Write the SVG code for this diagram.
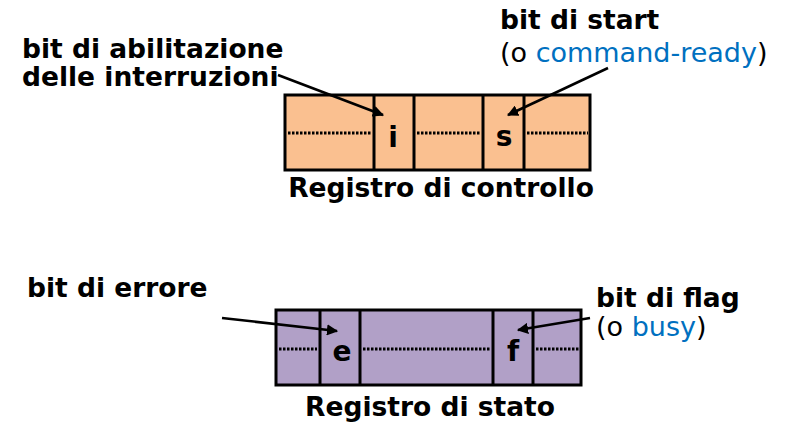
<svg xmlns="http://www.w3.org/2000/svg" width="789" height="429" viewBox="0 0 789 429">
<defs>
<marker id="ah" viewBox="0 0 10 10" refX="9" refY="5" markerWidth="4.5" markerHeight="4.5" orient="auto" markerUnits="strokeWidth">
<path d="M0,0 L10,5 L0,10 z" fill="#000"/>
</marker>
<style>
.reg{stroke:#000;stroke-width:3}
.div{stroke:#000;stroke-width:3}
.dot{stroke:#000;stroke-width:3;stroke-dasharray:2.5 1.5}
.b{font-family:"DejaVu Sans",Verdana,sans-serif;font-weight:bold;fill:#000;font-size:26.5px}
.bit{font-family:"DejaVu Sans",Verdana,sans-serif;font-weight:bold;fill:#000;font-size:28px}
.r{font-family:"DejaVu Sans",Verdana,sans-serif;fill:#000;font-size:27px}
.blue{fill:#0070C0}
.con{stroke:#000;stroke-width:2.5;fill:none;marker-end:url(#ah)}
</style>
</defs>
<rect width="789" height="429" fill="#fff"/>
<g id="registro-controllo">
<rect class="reg" x="285" y="95" width="305" height="75" fill="#FAC090"/>
<line class="div" x1="374" y1="95" x2="374" y2="170"/>
<line class="div" x1="414" y1="95" x2="414" y2="170"/>
<line class="div" x1="483" y1="95" x2="483" y2="170"/>
<line class="div" x1="524" y1="95" x2="524" y2="170"/>
<line class="dot" x1="288" y1="133" x2="371" y2="133"/>
<line class="dot" x1="417" y1="133" x2="480" y2="133"/>
<line class="dot" x1="527" y1="133" x2="588" y2="133"/>
<text class="bit" x="393" y="147" text-anchor="middle">i</text>
<text class="bit" x="504" y="146" text-anchor="middle">s</text>
<text class="b" x="441" y="197" text-anchor="middle">Registro di controllo</text>
</g>
<g id="registro-stato">
<rect class="reg" x="276" y="310" width="305" height="75" fill="#B1A0C7"/>
<line class="div" x1="320" y1="310" x2="320" y2="385"/>
<line class="div" x1="360" y1="310" x2="360" y2="385"/>
<line class="div" x1="493" y1="310" x2="493" y2="385"/>
<line class="div" x1="533" y1="310" x2="533" y2="385"/>
<line class="dot" x1="279" y1="349" x2="317" y2="349"/>
<line class="dot" x1="363" y1="349" x2="490" y2="349"/>
<line class="dot" x1="536" y1="349" x2="579" y2="349"/>
<text class="bit" x="342" y="361" text-anchor="middle">e</text>
<text class="bit" x="513" y="361" text-anchor="middle">f</text>
<text class="b" x="430" y="416" text-anchor="middle">Registro di stato</text>
</g>
<g id="label-abilitazione">
<text class="b" x="22" y="58">bit di abilitazione</text>
<text class="b" x="22" y="86">delle interruzioni</text>
</g>
<g id="label-start">
<text class="b" x="500" y="29">bit di start</text>
<text class="r" x="500" y="62">(o <tspan class="blue">command-ready</tspan>)</text>
</g>
<g id="label-errore">
<text class="b" x="27" y="297">bit di errore</text>
</g>
<g id="label-flag">
<text class="b" x="596" y="307">bit di flag</text>
<text class="r" x="596" y="336">(o <tspan class="blue">busy</tspan>)</text>
</g>
<g id="connectors">
<line class="con" x1="278" y1="75" x2="383" y2="115"/>
<line class="con" x1="608" y1="68" x2="508" y2="115"/>
<line class="con" x1="222" y1="318" x2="337" y2="331"/>
<line class="con" x1="590" y1="318" x2="518" y2="330"/>
</g>
</svg>
